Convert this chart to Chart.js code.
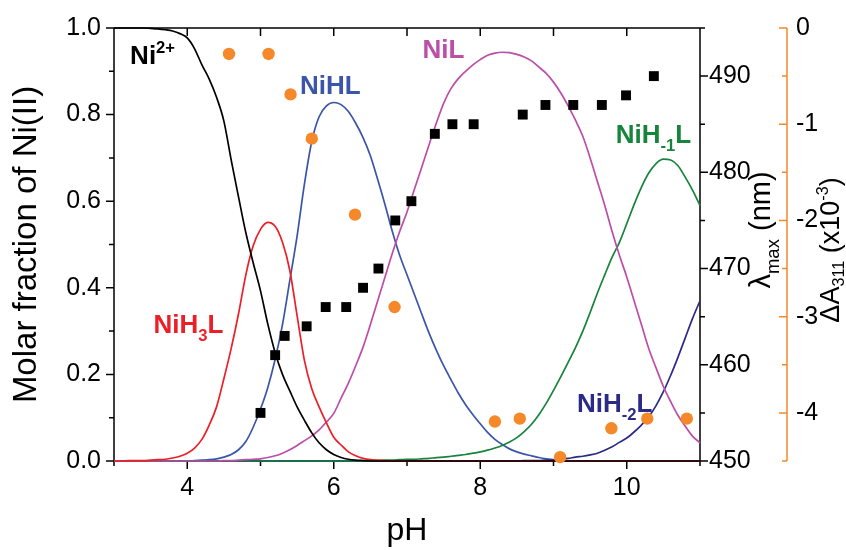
<!DOCTYPE html>
<html><head><meta charset="utf-8">
<script src="https://cdn.jsdelivr.net/npm/chart.js@4.4.1/dist/chart.umd.min.js"></script>
<style>html,body{margin:0;padding:0;background:#fff;overflow:hidden}</style>
</head><body>
<canvas id="c" width="846" height="550"></canvas>
<script>
// ---------- data ----------
const pH = [3.0,3.1,3.2,3.3,3.4,3.5,3.6,3.7,3.8,3.9,4.0,4.1,4.2,4.3,4.4,4.5,4.6,4.7,4.8,4.9,5.0,5.1,5.2,5.3,5.4,5.5,5.6,5.7,5.8,5.9,6.0,6.1,6.2,6.3,6.4,6.5,6.6,6.7,6.8,6.9,7.0,7.1,7.2,7.3,7.4,7.5,7.6,7.7,7.8,7.9,8.0,8.1,8.2,8.3,8.4,8.5,8.6,8.7,8.8,8.9,9.0,9.1,9.2,9.3,9.4,9.5,9.6,9.7,9.8,9.9,10.0,10.1,10.2,10.3,10.4,10.5,10.6,10.7,10.8,10.9,11.0];

const ni2 = [1,1,1,1,1,0.999,0.998,0.996,0.993,0.987,
  0.977,0.952,0.915,0.882,0.84,0.785,0.695,0.61,0.527,0.458,
  0.393,0.316,0.25,0.2,0.162,0.125,0.094,0.065,0.042,0.026,
  0.015,0.008,0.004,0.002,0.001,0,0,0,0,0,
  0,0,0,0,0,0,0,0,0,0,0,0,0,0,0,0,0,0,0,0,0,0,0,0,0,0,0,0,0,0,0,0,0,0,0,0,0,0,0,0,0];

const niH3L = [0,0,0.001,0.001,0.001,0.002,0.003,0.004,0.007,0.011,
  0.018,0.03,0.05,0.083,0.125,0.19,0.26,0.34,0.43,0.497,
  0.535,0.551,0.542,0.505,0.44,0.335,0.232,0.167,0.125,0.088,
  0.055,0.037,0.021,0.012,0.006,0.003,0.002,0.001,0,0,
  0,0,0,0,0,0,0,0,0,0,0,0,0,0,0,0,0,0,0,0,0,0,0,0,0,0,0,0,0,0,0,0,0,0,0,0,0,0,0,0,0];

const niHL = [0,0,0,0,0,0,0,0,0,0,
  0,0.001,0.002,0.003,0.005,0.009,0.015,0.026,0.045,0.078,
  0.12,0.17,0.235,0.315,0.417,0.52,0.64,0.738,0.795,0.82,
  0.828,0.823,0.807,0.78,0.747,0.705,0.65,0.592,0.53,0.475,
  0.43,0.385,0.34,0.296,0.256,0.22,0.188,0.157,0.13,0.107,
  0.086,0.066,0.05,0.038,0.028,0.021,0.016,0.012,0.008,0.005,
  0.003,0.001,0,0,0,0,0,0,0,0,0,0,0,0,0,0,0,0,0,0,0];

const niL = [0,0,0,0,0,0,0,0,0,0,0,0,0,0,0,
  0.001,0.001,0.002,0.003,0.004,
  0.005,0.008,0.012,0.018,0.026,0.036,0.047,0.058,0.072,0.09,
  0.11,0.145,0.18,0.22,0.263,0.315,0.37,0.425,0.48,0.53,
  0.575,0.627,0.678,0.73,0.78,0.826,0.86,0.883,0.9,0.915,
  0.927,0.937,0.942,0.944,0.943,0.939,0.933,0.924,0.91,0.895,
  0.875,0.85,0.82,0.787,0.75,0.7,0.645,0.59,0.53,0.475,
  0.425,0.37,0.315,0.26,0.215,0.172,0.137,0.105,0.08,0.057,0.042];

const niHm1L = [0,0,0,0,0,0,0,0,0,0,0,0,0,0,0,0,0,0,0,0,0,0,0,0,0,0,0,0,0,0,0,0,0,0,0,
  0.001,0.001,0.002,0.002,0.003,
  0.004,0.004,0.005,0.006,0.008,0.009,0.011,0.013,0.015,0.018,
  0.021,0.025,0.03,0.036,0.044,0.054,0.068,0.085,0.107,0.133,
  0.163,0.195,0.228,0.262,0.3,0.343,0.388,0.43,0.471,0.505,
  0.548,0.592,0.632,0.665,0.687,0.697,0.695,0.682,0.655,0.625,0.59];

const niHm2L = [0,0,0,0,0,0,0,0,0,0,0,0,0,0,0,0,0,0,0,0,0,0,0,0,0,0,0,0,0,0,0,0,0,0,0,0,0,0,0,0,0,0,0,0,0,0,0,0,0,0,0,0,0,0,0,0,
  0.001,0.001,0.001,0.002,
  0.002,0.004,0.006,0.009,0.011,0.014,0.018,0.025,0.033,0.043,
  0.053,0.067,0.083,0.102,0.128,0.16,0.198,0.24,0.285,0.33,0.37];

const lamPH  = [5.0,5.2,5.33,5.63,5.89,6.17,6.4,6.61,6.84,7.06,7.38,7.62,7.91,8.58,8.89,9.27,9.66,9.99,10.37];
const lamMax = [455,461,463,464,466,466,468,470,475,477,484,485,485,486,487,487,487,488,490];

const dAPH  = [4.57,5.11,5.41,5.70,6.29,6.83,8.20,8.54,9.09,9.79,10.28,10.82];
const dA311 = [-0.27,-0.27,-0.69,-1.15,-1.94,-2.90,-4.09,-4.06,-4.46,-4.16,-4.06,-4.06];

const xMajor = [4,6,8,10], xMinor = [3,5,7,9,11], xTop = [4,5,6,7,8,9,10];
const yMajor = [0,0.2,0.4,0.6,0.8,1.0], yMinor = [0.1,0.3,0.5,0.7,0.9];
const lMajor = [450,460,470,480,490], lMinor = [455,465,475,485,495];
const dMajor = [0,-1,-2,-3,-4], dMinor = [-0.5,-1.5,-2.5,-3.5,-4.5];

// ---------- styles ----------
const FONT = '"Liberation Sans", Arial, Helvetica, sans-serif';
const C = { ni2:'#000000', h3:'#ec1f26', hl:'#3b56a8', l:'#bc4ea8', m1:'#17843c', m2:'#2b2a86', orange:'#f5892a' };

const labels = [
  { parts:[['Ni',''],['2+','sup']], color:C.ni2, x:3.22, y:0.917 },
  { parts:[['NiHL','']], color:C.hl, x:5.54, y:0.848 },
  { parts:[['NiL','']], color:C.l, x:7.21, y:0.931 },
  { parts:[['NiH',''],['-1','sub'],['L','']], color:C.m1, x:9.85, y:0.735 },
  { parts:[['NiH',''],['3','sub'],['L','']], color:C.h3, x:3.54, y:0.295 },
  { parts:[['NiH',''],['-2','sub'],['L','']], color:C.m2, x:9.32, y:0.113 }
];

function toXY(xs, ys){ return xs.map((v,i)=>({x:v, y:ys[i]})); }

function drawRich(ctx, parts, x, y, size, bold, color, align, subScale, subDrop){
  const f = s => (bold?'bold ':'') + s + 'px ' + FONT;
  const sub = size*(subScale || 0.64);
  const drop = subDrop || 0.3;
  let w = 0;
  const items = parts.map(p => { const s = p[1] ? sub : size; ctx.font = f(s); const m = ctx.measureText(p[0]).width; w += m; return {t:p[0], k:p[1], s, m}; });
  let cx = align === 'center' ? x - w/2 : x;
  ctx.fillStyle = color;
  ctx.textAlign = 'left';
  ctx.textBaseline = 'alphabetic';
  for (const it of items){
    ctx.font = f(it.s);
    const dy = it.k === 'sub' ? size*drop : (it.k === 'sup' ? -size*0.42 : 0);
    ctx.fillText(it.t, cx, y + dy);
    cx += it.m;
  }
}

const framePlugin = {
  id:'frame',
  beforeDatasetsDraw(chart){
    const {ctx, chartArea:a, scales} = chart;
    const X = scales.x, Y = scales.y, L = scales.y2, D = scales.y3;
    ctx.save();
    ctx.lineWidth = 1.5;
    ctx.strokeStyle = '#000';
    ctx.beginPath();
    ctx.rect(a.left, a.top, a.right - a.left, a.bottom - a.top);
    xMajor.forEach(v => { const p = X.getPixelForValue(v); ctx.moveTo(p, a.bottom); ctx.lineTo(p, a.bottom + 8); });
    xMinor.forEach(v => { const p = X.getPixelForValue(v); ctx.moveTo(p, a.bottom); ctx.lineTo(p, a.bottom + 5); });
    xTop.forEach(v => { const p = X.getPixelForValue(v); ctx.moveTo(p, a.top); ctx.lineTo(p, a.top + 8); });
    yMajor.forEach(v => { const p = Y.getPixelForValue(v); ctx.moveTo(a.left, p); ctx.lineTo(a.left - 8, p); });
    yMinor.forEach(v => { const p = Y.getPixelForValue(v); ctx.moveTo(a.left, p); ctx.lineTo(a.left - 5, p); });
    lMajor.forEach(v => { const p = L.getPixelForValue(v); ctx.moveTo(a.right, p); ctx.lineTo(a.right + 8, p); });
    lMinor.forEach(v => { const p = L.getPixelForValue(v); ctx.moveTo(a.right, p); ctx.lineTo(a.right + 5, p); });
    ctx.stroke();
    const ox = D.left;
    ctx.strokeStyle = C.orange;
    ctx.beginPath();
    ctx.moveTo(ox, D.getPixelForValue(0)); ctx.lineTo(ox, D.getPixelForValue(-4.5));
    dMajor.forEach(v => { const p = D.getPixelForValue(v); ctx.moveTo(ox, p); ctx.lineTo(ox - 8, p); });
    dMinor.forEach(v => { const p = D.getPixelForValue(v); ctx.moveTo(ox, p); ctx.lineTo(ox - 5, p); });
    ctx.stroke();
    ctx.restore();
  },
  afterDraw(chart){
    const {ctx, chartArea:a, scales} = chart;
    const X = scales.x, Y = scales.y;
    ctx.save();
    labels.forEach(l => drawRich(ctx, l.parts, X.getPixelForValue(l.x), Y.getPixelForValue(l.y), 26, true, l.color, 'left'));
    drawRich(ctx, [['pH','']], (a.left + a.right)/2, 540, 32, false, '#000', 'center');
    ctx.save(); ctx.translate(36, (a.top + a.bottom)/2); ctx.rotate(-Math.PI/2);
    drawRich(ctx, [['Molar fraction of Ni(II)','']], 0, 0, 33, false, '#000', 'center');
    ctx.restore();
    ctx.save(); ctx.translate(770, 230); ctx.rotate(-Math.PI/2);
    drawRich(ctx, [['λ',''],['max','sub'],[' (nm)','']], 0, 0, 29, false, '#000', 'center');
    ctx.restore();
    ctx.save(); ctx.translate(839, 250); ctx.rotate(-Math.PI/2);
    drawRich(ctx, [['ΔA',''],['311','sub'],[' (x10',''],['-3','sup'],[')','']], 0, 0, 27, false, '#000', 'center', 0.6, 0.2);
    ctx.restore();
    ctx.restore();
  }
};

function lineDS(data, color){
  return { type:'line', data: toXY(pH, data), borderColor: color, borderWidth: 1.7, pointRadius: 0, fill:false, cubicInterpolationMode:'monotone', yAxisID:'y', clip:false };
}

const tickFont = { size: 25, family: FONT };

new Chart(document.getElementById('c'), {
  type: 'scatter',
  data: { datasets: [
    { type:'scatter', data: toXY(dAPH, dA311), yAxisID:'y3', pointStyle:'circle', pointRadius:6.2, backgroundColor:C.orange, borderWidth:0, clip:false },
    { type:'scatter', data: toXY(lamPH, lamMax), yAxisID:'y2', pointStyle:'rect', pointRadius:7, backgroundColor:'#000', borderWidth:0, clip:false },
    lineDS(ni2, C.ni2),
    lineDS(niH3L, C.h3),
    lineDS(niL, C.l),
    lineDS(niHm1L, C.m1),
    lineDS(niHm2L, C.m2),
    lineDS(niHL, C.hl)
  ]},
  options: {
    responsive:false, animation:false, devicePixelRatio:1,
    layout:{ padding:{ top:27, left:0, right:0, bottom:0 } },
    plugins:{ legend:{display:false}, tooltip:{enabled:false} },
    scales:{
      x:{ type:'linear', position:'bottom', min:3, max:11,
          grid:{display:false, drawTicks:false}, border:{display:false},
          ticks:{ font:tickFont, color:'#000', padding:12, maxRotation:0 },
          afterBuildTicks: s => { s.ticks = xMajor.map(v => ({value:v})); },
          afterFit: s => { s.height = 89; } },
      y:{ type:'linear', position:'left', min:0, max:1,
          grid:{display:false, drawTicks:false}, border:{display:false},
          ticks:{ font:tickFont, color:'#000', padding:13, callback: v => Number(v).toFixed(1) },
          afterBuildTicks: s => { s.ticks = yMajor.map(v => ({value:v})); },
          afterFit: s => { s.width = 114; } },
      y2:{ type:'linear', position:'right', min:450, max:495, weight:0,
          grid:{display:false, drawTicks:false}, border:{display:false},
          ticks:{ font:tickFont, color:'#000', padding:9 },
          afterBuildTicks: s => { s.ticks = lMajor.map(v => ({value:v})); },
          afterFit: s => { s.width = 87; } },
      y3:{ type:'linear', position:'right', min:-4.5, max:0, weight:1,
          grid:{display:false, drawTicks:false}, border:{display:false},
          ticks:{ font:tickFont, color:'#000', padding:9, callback: v => String(v) },
          afterBuildTicks: s => { s.ticks = dMajor.map(v => ({value:v})); },
          afterFit: s => { s.width = 59; } }
    }
  },
  plugins:[framePlugin]
});
</script>
</body></html>
